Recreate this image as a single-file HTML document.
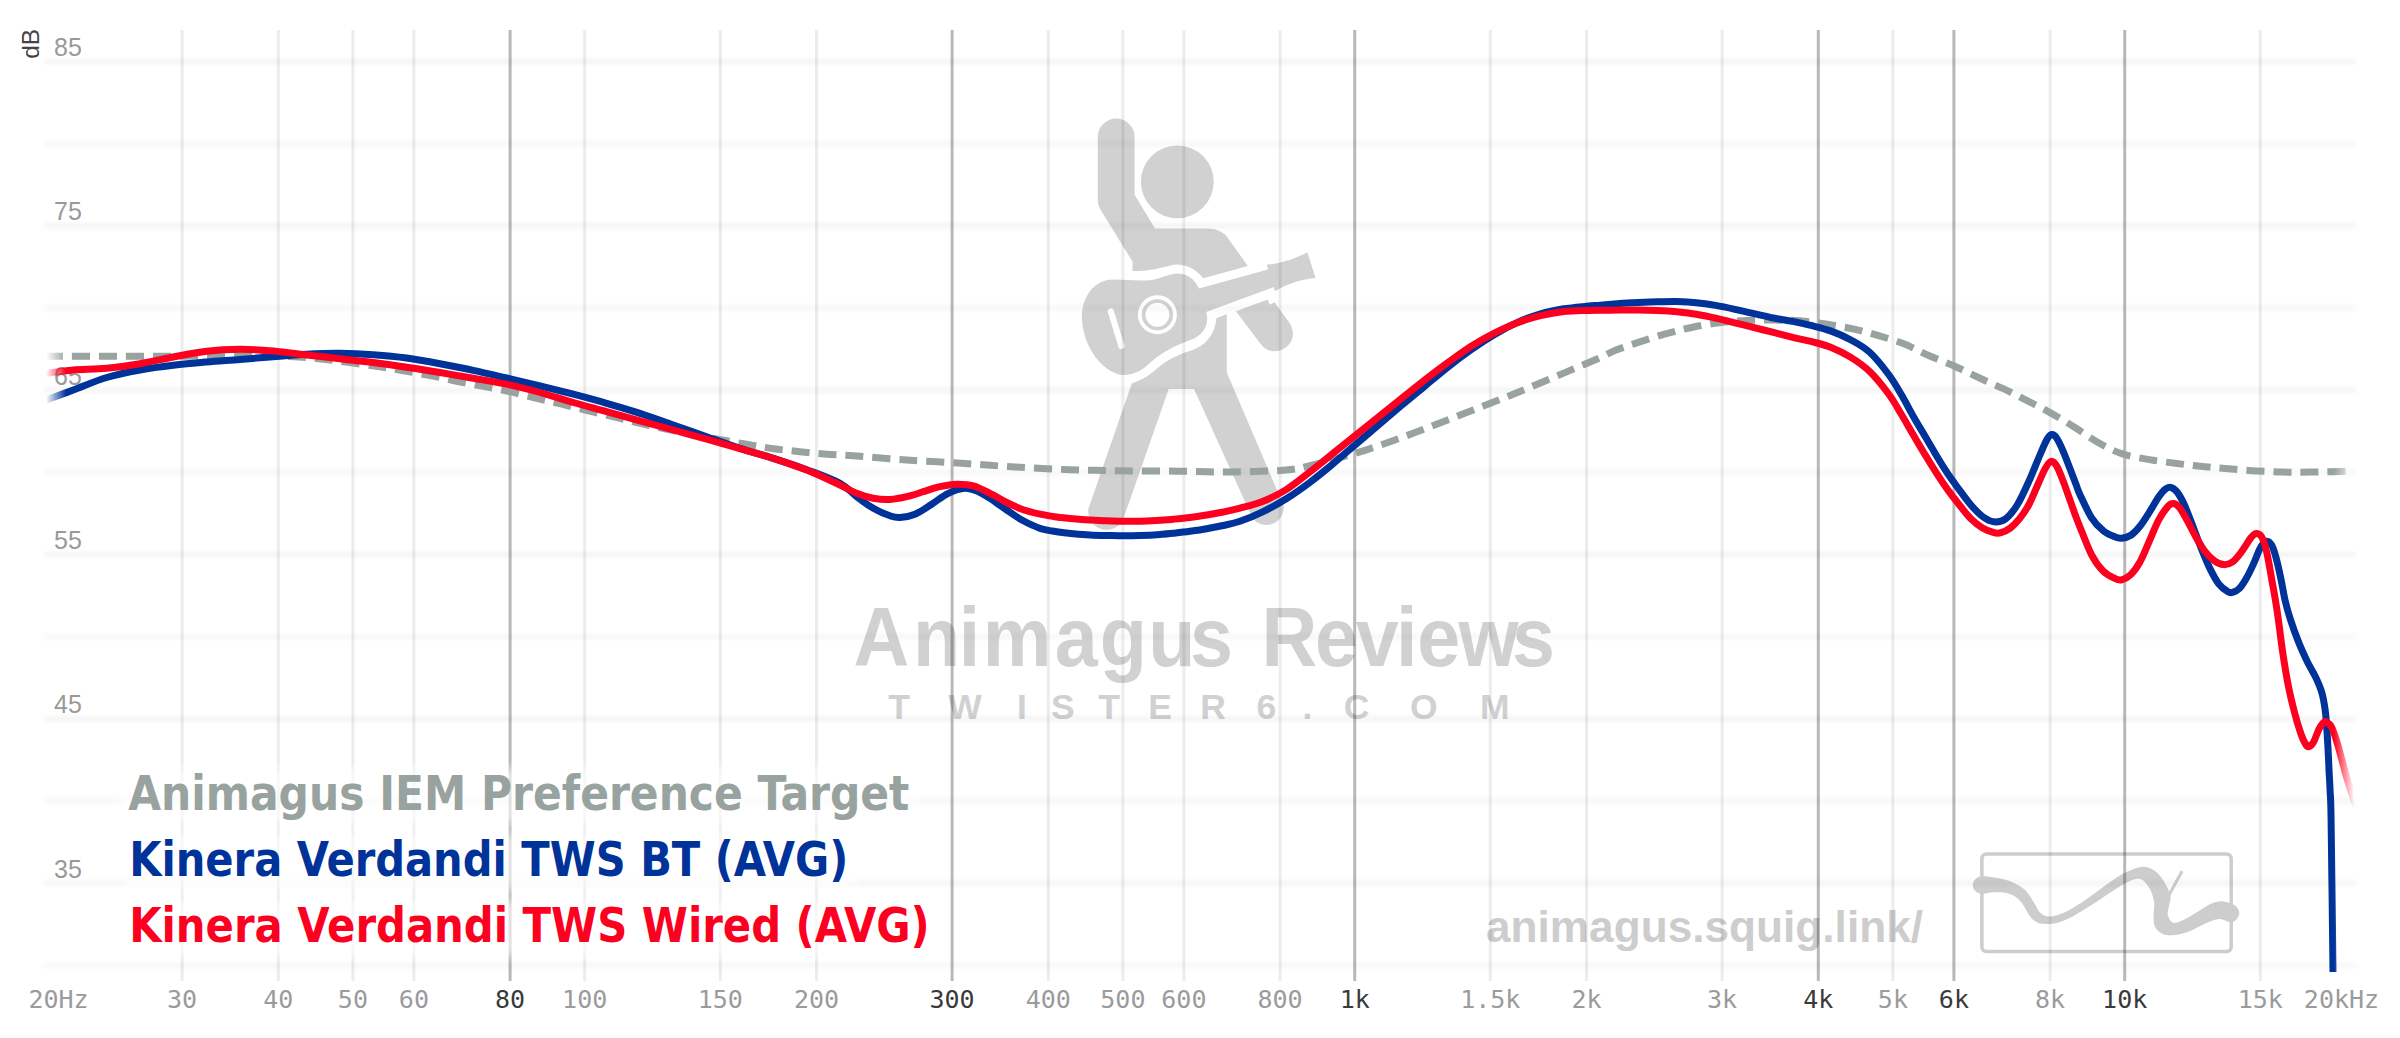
<!DOCTYPE html>
<html lang="en"><head><meta charset="utf-8"><title>Animagus Reviews graph</title>
<style>
html,body{margin:0;padding:0;background:#fff;}
body{width:2400px;height:1038px;overflow:hidden;}
svg{display:block;}
.xl{font-family:"DejaVu Sans Mono","Liberation Mono",monospace;font-size:25px;text-anchor:middle;fill:#9b9b9b;}
.xl.b{fill:#3a3a3a;}
.yl{font-family:"Liberation Sans","DejaVu Sans",sans-serif;font-size:25px;fill:#999;}
.lab{font-family:"DejaVu Sans Condensed","Liberation Sans",sans-serif;font-weight:bold;font-size:48px;}
.wm{font-family:"Liberation Sans","DejaVu Sans",sans-serif;font-weight:bold;fill:#d1d1d1;}
</style></head><body>
<svg width="2400" height="1038" viewBox="0 0 2400 1038">
<defs>
<filter id="hb" filterUnits="userSpaceOnUse" x="0" y="0" width="2400" height="1038"><feGaussianBlur stdDeviation="2.4"/></filter>
<filter id="lb" filterUnits="userSpaceOnUse" x="0" y="0" width="2400" height="1038"><feGaussianBlur stdDeviation="5"/></filter>
<linearGradient id="fg" gradientUnits="userSpaceOnUse" x1="45" y1="0" x2="2355" y2="0">
<stop offset="0.0004" stop-color="#fff" stop-opacity="0"/><stop offset="0.0091" stop-color="#fff" stop-opacity="1"/>
<stop offset="0.9909" stop-color="#fff" stop-opacity="1"/><stop offset="0.9996" stop-color="#fff" stop-opacity="0"/>
</linearGradient>
<mask id="fm" maskUnits="userSpaceOnUse" x="0" y="0" width="2400" height="1038"><rect x="45" y="0" width="2310" height="972" fill="url(#fg)"/></mask>
</defs>
<rect width="2400" height="1038" fill="#fff"/>

<g fill="#d1d1d1">
<path d="M1097.8 136.9 A18.4 18.4 0 0 1 1134.6 136.9 L1134.6 194.8 L1155.0 228.4 L1207.7 228.4 C1215.3 228.4 1221.8 231.2 1226.1 235.5 L1247.8 265.9 L1203.4 278.3 C1196.9 270.2 1188.2 264.8 1177.8 264.4 C1168.7 264.4 1156.7 271.3 1132.5 270.9 L1132.5 261.6 L1100.4 209.5 Q1097.8 205.2 1097.8 200.2 Z"/>
<circle cx="1177.3" cy="181.8" r="36.4"/>
<path d="M1199.0 288.5 C1194.7 278.8 1187.1 273.4 1177.3 273.4 C1169.8 273.4 1161.1 278.1 1154.6 279.4 C1143.7 281.6 1126.4 279.4 1113.4 279.4 C1093.9 279.4 1081.9 297.2 1081.9 316.7 C1081.9 338.4 1093.9 360.1 1109.0 369.9 C1115.5 373.6 1119.9 374.9 1123.1 374.9 C1135.1 374.9 1143.7 368.8 1148.1 364.4 C1161.1 352.5 1174.1 346.0 1191.4 339.5 C1202.3 335.6 1209.9 325.4 1206.2 312.0 L1273.8 287.0 L1274.9 291.2 C1289.0 283.1 1302.0 279.4 1315.5 278.1 L1307.4 252.3 C1295.5 258.8 1280.3 263.6 1266.9 264.7 L1268.0 269.5 Z"/>
<path d="M1235.9 311.3 L1267.8 299.4 L1269.5 304.8 L1274.5 302.2 L1289.0 322.2 C1296.0 331.9 1293.8 344.9 1281.4 349.9 C1272.8 353.2 1265.2 350.4 1260.4 343.8 Z"/>
<path d="M1216.4 318.3 L1226.8 314.1 L1226.8 372.6 L1283.6 505.5 A17.3 17.3 0 0 1 1252.2 517.5 L1194.0 389.1 L1168.7 389.1 L1123.1 519.6 A18.4 18.4 0 0 1 1088.4 508.8 L1131.8 383.4 C1143.7 379.6 1152.4 373.1 1156.7 368.8 C1167.6 359.0 1180.6 353.6 1191.4 350.4 C1205.5 346.0 1215.3 334.1 1216.4 318.3 Z"/>
</g>
<circle cx="1157.4" cy="314.8" r="19.5" fill="#fff"/>
<circle cx="1157.4" cy="314.8" r="13.8" fill="none" stroke="#d1d1d1" stroke-width="3.7"/>
<line x1="1110.8" y1="311.3" x2="1121.4" y2="346.0" stroke="#fff" stroke-width="6.1" stroke-linecap="round"/>
<text class="wm" font-size="84" transform="scale(0.92,1)" y="665.8" x="927.6 992.3 1042.2 1068.1 1146.5 1195.5 1248.1 1293.5 1347.8 1371.3 1429.4 1473.7 1517.4 1540.6 1585.3 1643.5">Animagus Reviews</text>
<text class="wm" font-size="35.5" y="718.8" x="888.3 948.2 1016.9 1050.9 1098.2 1148.3 1200.2 1256.4 1302.6 1343.7 1410.0 1480.0">TWISTER6.COM</text>
<text class="wm" style="fill:#cdcdcd" font-size="45" x="1486" y="941.6" textLength="437" lengthAdjust="spacingAndGlyphs">animagus.squig.link/</text>
<rect x="1981.9" y="854.0" width="249.3" height="97.5" rx="4.5" fill="none" stroke="#cdcdcd" stroke-width="3.5"/>
<path d="M1973.2 882.6C1973.9 880.4 1975.8 877.9 1978.8 877.0C1981.8 876.0 1986.1 876.2 1991.3 877.0C1996.5 877.7 2004.5 879.1 2010.1 881.3C2015.7 883.5 2021.2 886.6 2025.1 890.1C2029.1 893.7 2031.4 898.9 2033.9 902.6C2036.4 906.4 2037.5 910.4 2040.2 912.7C2042.9 915.0 2045.8 916.6 2050.2 916.4C2054.6 916.2 2060.6 914.1 2066.5 911.4C2072.3 908.7 2079.0 904.3 2085.3 900.1C2091.5 896.0 2097.8 890.7 2104.1 886.3C2110.3 882.0 2116.6 877.1 2122.8 873.8C2129.1 870.6 2136.2 867.3 2141.6 866.9C2147.1 866.5 2151.4 868.5 2155.4 871.3C2159.4 874.1 2162.9 879.7 2165.4 883.8C2167.9 888.0 2169.9 892.4 2170.4 896.4C2171.0 900.3 2169.0 904.5 2168.6 907.6C2168.2 910.8 2167.2 912.7 2167.9 915.2C2168.7 917.7 2170.4 921.8 2173.0 922.7C2175.5 923.5 2178.8 922.0 2183.0 920.2C2187.1 918.3 2193.4 914.1 2198.0 911.4C2202.6 908.7 2206.4 905.6 2210.5 903.9C2214.7 902.2 2219.1 901.2 2223.1 901.4C2227.0 901.6 2231.6 903.3 2234.3 905.1C2237.0 907.0 2239.1 910.1 2239.3 912.7C2239.6 915.2 2237.3 918.6 2235.6 920.2C2233.9 921.7 2232.0 922.3 2229.3 922.0C2226.6 921.8 2223.5 918.6 2219.3 918.9C2215.1 919.2 2209.3 921.8 2204.3 923.9C2199.3 926.0 2194.5 929.6 2189.2 931.4C2184.0 933.3 2177.3 934.8 2173.0 935.2C2168.6 935.6 2165.9 935.2 2162.9 933.9C2160.0 932.7 2157.0 930.4 2155.4 927.7C2153.8 925.0 2153.7 921.8 2153.5 917.7C2153.3 913.5 2154.7 907.2 2154.2 902.6C2153.6 898.0 2152.1 893.7 2150.4 890.1C2148.7 886.6 2146.2 883.2 2144.1 881.3C2142.1 879.5 2140.8 878.6 2137.9 878.8C2135.0 879.0 2131.2 880.3 2126.6 882.6C2122.0 884.9 2116.2 888.9 2110.3 892.6C2104.5 896.4 2097.8 901.2 2091.5 905.1C2085.3 909.1 2078.4 913.5 2072.7 916.4C2067.1 919.3 2061.9 921.4 2057.7 922.7C2053.5 923.9 2051.0 923.9 2047.7 923.9C2044.3 923.9 2040.6 923.9 2037.7 922.7C2034.7 921.4 2032.7 919.5 2030.1 916.4C2027.6 913.3 2025.1 907.2 2022.6 903.9C2020.1 900.5 2018.2 898.2 2015.1 896.4C2012.0 894.5 2007.8 893.2 2003.8 892.6C1999.9 892.0 1995.1 892.4 1991.3 892.6C1987.6 892.8 1984.1 894.3 1981.3 893.9C1978.5 893.4 1975.8 892.0 1974.4 890.1C1973.0 888.2 1972.4 884.8 1973.2 882.6Z" fill="#cdcdcd"/>
<line x1="2168.6" y1="895.7" x2="2181.5" y2="872.3" stroke="#cdcdcd" stroke-width="3.2" stroke-linecap="round"/>
<g filter="url(#hb)" stroke="#000" stroke-linecap="round">
<line x1="45" x2="2355" y1="965.3" y2="965.3" stroke-width="1" stroke-opacity="0.17"/>
<line x1="45" x2="2355" y1="883.1" y2="883.1" stroke-width="1" stroke-opacity="0.22"/>
<line x1="45" x2="2355" y1="801.0" y2="801.0" stroke-width="1" stroke-opacity="0.17"/>
<line x1="45" x2="2355" y1="718.8" y2="718.8" stroke-width="1" stroke-opacity="0.22"/>
<line x1="45" x2="2355" y1="636.6" y2="636.6" stroke-width="1" stroke-opacity="0.17"/>
<line x1="45" x2="2355" y1="554.5" y2="554.5" stroke-width="1" stroke-opacity="0.22"/>
<line x1="45" x2="2355" y1="472.3" y2="472.3" stroke-width="1" stroke-opacity="0.17"/>
<line x1="45" x2="2355" y1="390.1" y2="390.1" stroke-width="1" stroke-opacity="0.22"/>
<line x1="45" x2="2355" y1="308.0" y2="308.0" stroke-width="1" stroke-opacity="0.17"/>
<line x1="45" x2="2355" y1="225.8" y2="225.8" stroke-width="1" stroke-opacity="0.22"/>
<line x1="45" x2="2355" y1="143.7" y2="143.7" stroke-width="1" stroke-opacity="0.17"/>
<line x1="45" x2="2355" y1="61.5" y2="61.5" stroke-width="1" stroke-opacity="0.22"/>
</g>
<g stroke-width="3">
<line x1="182.1" x2="182.1" y1="30" y2="981" stroke="#000" stroke-opacity="0.075"/>
<line x1="278.3" x2="278.3" y1="30" y2="981" stroke="#000" stroke-opacity="0.075"/>
<line x1="352.9" x2="352.9" y1="30" y2="981" stroke="#000" stroke-opacity="0.075"/>
<line x1="413.9" x2="413.9" y1="30" y2="981" stroke="#000" stroke-opacity="0.075"/>
<line x1="510.1" x2="510.1" y1="30" y2="981" stroke="#000" stroke-opacity="0.28"/>
<line x1="584.7" x2="584.7" y1="30" y2="981" stroke="#000" stroke-opacity="0.075"/>
<line x1="720.3" x2="720.3" y1="30" y2="981" stroke="#000" stroke-opacity="0.075"/>
<line x1="816.5" x2="816.5" y1="30" y2="981" stroke="#000" stroke-opacity="0.075"/>
<line x1="952.1" x2="952.1" y1="30" y2="981" stroke="#000" stroke-opacity="0.28"/>
<line x1="1048.3" x2="1048.3" y1="30" y2="981" stroke="#000" stroke-opacity="0.075"/>
<line x1="1122.9" x2="1122.9" y1="30" y2="981" stroke="#000" stroke-opacity="0.075"/>
<line x1="1183.9" x2="1183.9" y1="30" y2="981" stroke="#000" stroke-opacity="0.075"/>
<line x1="1280.1" x2="1280.1" y1="30" y2="981" stroke="#000" stroke-opacity="0.075"/>
<line x1="1354.7" x2="1354.7" y1="30" y2="981" stroke="#000" stroke-opacity="0.28"/>
<line x1="1490.3" x2="1490.3" y1="30" y2="981" stroke="#000" stroke-opacity="0.075"/>
<line x1="1586.5" x2="1586.5" y1="30" y2="981" stroke="#000" stroke-opacity="0.075"/>
<line x1="1722.1" x2="1722.1" y1="30" y2="981" stroke="#000" stroke-opacity="0.075"/>
<line x1="1818.3" x2="1818.3" y1="30" y2="981" stroke="#000" stroke-opacity="0.28"/>
<line x1="1892.9" x2="1892.9" y1="30" y2="981" stroke="#000" stroke-opacity="0.075"/>
<line x1="1953.9" x2="1953.9" y1="30" y2="981" stroke="#000" stroke-opacity="0.28"/>
<line x1="2050.1" x2="2050.1" y1="30" y2="981" stroke="#000" stroke-opacity="0.075"/>
<line x1="2124.7" x2="2124.7" y1="30" y2="981" stroke="#000" stroke-opacity="0.28"/>
<line x1="2260.3" x2="2260.3" y1="30" y2="981" stroke="#000" stroke-opacity="0.075"/>
</g>
<g>
<text class="xl" x="58.5" y="1007.5">20Hz</text>
<text class="xl" x="182.1" y="1007.5">30</text>
<text class="xl" x="278.3" y="1007.5">40</text>
<text class="xl" x="352.9" y="1007.5">50</text>
<text class="xl" x="413.9" y="1007.5">60</text>
<text class="xl b" x="510.1" y="1007.5">80</text>
<text class="xl" x="584.7" y="1007.5">100</text>
<text class="xl" x="720.3" y="1007.5">150</text>
<text class="xl" x="816.5" y="1007.5">200</text>
<text class="xl b" x="952.1" y="1007.5">300</text>
<text class="xl" x="1048.3" y="1007.5">400</text>
<text class="xl" x="1122.9" y="1007.5">500</text>
<text class="xl" x="1183.9" y="1007.5">600</text>
<text class="xl" x="1280.1" y="1007.5">800</text>
<text class="xl b" x="1354.7" y="1007.5">1k</text>
<text class="xl" x="1490.3" y="1007.5">1.5k</text>
<text class="xl" x="1586.5" y="1007.5">2k</text>
<text class="xl" x="1722.1" y="1007.5">3k</text>
<text class="xl b" x="1818.3" y="1007.5">4k</text>
<text class="xl" x="1892.9" y="1007.5">5k</text>
<text class="xl b" x="1953.9" y="1007.5">6k</text>
<text class="xl" x="2050.1" y="1007.5">8k</text>
<text class="xl b" x="2124.7" y="1007.5">10k</text>
<text class="xl" x="2260.3" y="1007.5">15k</text>
<text class="xl" x="2341.5" y="1007.5">20kHz</text>
</g>
<g>
<text class="yl" x="54" y="877.6">35</text>
<text class="yl" x="54" y="713.3">45</text>
<text class="yl" x="54" y="549.0">55</text>
<text class="yl" x="54" y="384.6">65</text>
<text class="yl" x="54" y="220.3">75</text>
<text class="yl" x="54" y="56.0">85</text>
<text class="yl" style="fill:#444;text-anchor:end;font-size:24.5px" transform="translate(39.3,28.8) rotate(-90)" x="0" y="0">dB</text>
</g>
<g mask="url(#fm)" fill="none" stroke-linejoin="round">
<path d="M45.0 356.2C54.2 356.2 78.6 356.2 100.0 356.2C121.4 356.2 150.0 356.3 173.3 356.2C196.6 356.1 220.6 355.4 240.0 355.5C259.4 355.6 276.2 355.9 290.0 356.5C303.8 357.1 309.2 357.6 323.0 359.2C336.8 360.8 359.1 363.8 373.0 365.8C386.9 367.8 395.5 369.4 406.7 371.3C417.9 373.2 431.7 375.8 440.0 377.5C448.3 379.2 449.5 379.8 456.7 381.3C463.9 382.8 474.4 384.6 483.3 386.3C492.2 388.0 501.1 389.7 510.0 391.7C518.9 393.7 528.1 396.2 536.7 398.3C545.3 400.4 553.1 402.1 561.7 404.2C570.3 406.3 579.4 408.6 588.3 410.8C597.2 413.0 606.4 415.1 615.0 417.2C623.6 419.3 629.2 420.8 640.0 423.3C650.8 425.8 667.5 429.4 680.0 432.0C692.5 434.6 703.9 436.8 715.0 438.8C726.1 440.8 737.0 442.6 746.7 444.2C756.4 445.8 764.4 447.4 773.3 448.7C782.2 449.9 791.1 450.8 800.0 451.7C808.9 452.6 817.8 453.5 826.7 454.2C835.6 454.9 840.0 454.8 853.3 455.8C866.6 456.8 888.6 458.8 906.7 460.0C924.8 461.2 943.7 462.1 961.7 463.3C979.8 464.5 997.0 465.9 1015.0 467.0C1033.0 468.1 1052.0 469.1 1070.0 469.7C1088.0 470.3 1105.2 470.6 1123.3 470.8C1141.3 471.1 1160.2 471.0 1178.3 471.2C1196.4 471.4 1213.7 472.2 1231.7 472.0C1249.7 471.8 1272.5 471.2 1286.2 470.0C1299.9 468.8 1300.9 467.9 1314.0 464.6C1327.1 461.3 1348.0 455.7 1364.9 450.3C1381.9 444.9 1398.8 438.6 1415.7 432.3C1432.7 426.0 1449.6 419.2 1466.6 412.6C1483.6 406.0 1500.9 399.2 1517.5 392.5C1534.1 385.8 1552.2 377.9 1566.0 372.1C1579.8 366.3 1591.8 361.4 1600.0 357.8C1608.2 354.2 1608.7 353.0 1615.4 350.3C1622.2 347.6 1631.8 344.5 1640.5 341.7C1649.2 338.9 1658.7 335.8 1667.4 333.4C1676.1 331.0 1683.8 329.0 1692.5 327.2C1701.2 325.4 1710.5 323.9 1719.5 322.8C1728.5 321.7 1737.4 320.9 1746.4 320.5C1755.4 320.1 1764.4 320.1 1773.4 320.1C1782.4 320.2 1791.4 320.1 1800.4 320.8C1809.4 321.5 1818.4 322.9 1827.4 324.3C1836.4 325.7 1845.6 327.2 1854.3 329.1C1863.0 331.0 1871.0 333.4 1879.4 335.9C1887.9 338.4 1896.7 341.0 1905.0 344.3C1913.3 347.6 1921.0 352.2 1929.3 355.8C1937.6 359.4 1946.4 362.5 1954.7 366.2C1963.0 369.9 1970.9 374.1 1979.0 377.8C1987.1 381.6 1995.2 384.9 2003.3 388.7C2011.4 392.5 2019.5 396.8 2027.6 400.9C2035.7 405.0 2043.9 409.2 2051.8 413.6C2059.7 418.0 2067.3 422.7 2075.0 427.5C2082.7 432.3 2090.3 438.1 2098.1 442.5C2105.9 446.9 2113.0 450.8 2121.6 453.6C2130.2 456.5 2140.2 458.0 2149.4 459.6C2158.7 461.2 2168.2 462.4 2177.1 463.5C2185.9 464.6 2194.0 465.6 2202.5 466.5C2211.0 467.4 2219.1 468.1 2228.0 468.8C2236.9 469.5 2246.4 470.3 2255.7 470.9C2264.9 471.4 2274.2 471.9 2283.5 472.1C2292.8 472.3 2299.1 472.3 2311.2 472.1C2323.3 471.9 2348.5 471.2 2356.0 471.0" stroke="#98a29e" stroke-width="7" stroke-dasharray="18 9"/>
<path d="M45.0 400.3C45.3 400.2 42.0 401.4 46.7 399.7C51.4 398.0 63.3 393.7 73.3 390.0C83.3 386.3 95.6 380.8 106.7 377.5C117.8 374.2 128.9 372.0 140.0 370.0C151.1 368.0 162.2 366.6 173.3 365.3C184.4 364.0 195.6 363.0 206.7 362.0C217.8 361.0 228.9 360.4 240.0 359.5C251.1 358.6 262.2 357.6 273.3 356.7C284.4 355.8 295.6 354.8 306.7 354.2C317.8 353.6 328.9 353.2 340.0 353.3C351.1 353.4 362.2 353.9 373.3 354.7C384.4 355.5 395.6 356.5 406.7 358.0C417.8 359.5 428.9 361.6 440.0 363.7C451.1 365.8 462.2 367.9 473.3 370.3C484.4 372.7 495.6 375.4 506.7 378.0C517.8 380.6 528.9 383.1 540.0 385.8C551.1 388.5 562.2 391.3 573.3 394.2C584.4 397.1 595.6 400.1 606.7 403.3C617.8 406.5 628.9 409.7 640.0 413.3C651.1 416.9 662.2 421.1 673.3 425.0C684.4 428.9 695.6 432.8 706.7 436.7C717.8 440.6 728.9 444.7 740.0 448.3C751.1 451.9 762.2 454.7 773.3 458.3C784.4 461.9 795.6 465.5 806.7 469.7C817.8 473.9 831.7 478.8 840.0 483.3C848.3 487.8 851.2 492.5 856.7 496.7C862.2 500.9 867.8 505.1 873.3 508.3C878.8 511.5 885.5 514.3 890.0 515.8C894.5 517.3 895.8 517.8 900.0 517.5C904.2 517.2 909.7 516.4 915.0 514.2C920.3 512.0 926.2 507.7 931.7 504.2C937.2 500.7 942.8 495.9 948.3 493.3C953.8 490.7 960.0 488.6 965.0 488.3C970.0 488.0 974.1 490.0 978.3 491.7C982.5 493.4 985.3 495.2 990.0 498.3C994.7 501.4 1001.2 506.2 1006.7 510.0C1012.2 513.8 1017.8 517.8 1023.3 520.8C1028.8 523.8 1034.4 526.5 1040.0 528.3C1045.6 530.1 1051.2 530.8 1056.7 531.7C1062.2 532.6 1067.8 533.2 1073.3 533.7C1078.8 534.2 1084.4 534.7 1090.0 535.0C1095.6 535.3 1101.2 535.4 1106.7 535.5C1112.2 535.6 1117.8 535.8 1123.3 535.8C1128.8 535.8 1134.4 535.7 1140.0 535.5C1145.6 535.3 1151.2 535.1 1156.7 534.7C1162.2 534.3 1167.8 533.9 1173.3 533.3C1178.8 532.7 1184.4 532.1 1190.0 531.3C1195.6 530.5 1201.2 529.7 1206.7 528.7C1212.2 527.7 1217.8 526.7 1223.3 525.5C1228.8 524.3 1233.4 523.6 1240.0 521.3C1246.6 519.0 1255.4 515.4 1263.1 511.6C1270.8 507.9 1278.5 503.6 1286.2 498.8C1293.9 494.0 1301.7 488.5 1309.4 482.7C1317.1 476.9 1324.8 470.6 1332.5 464.2C1340.2 457.8 1347.9 451.1 1355.6 444.5C1363.3 437.9 1371.0 431.4 1378.7 424.9C1386.4 418.3 1394.1 411.7 1401.8 405.2C1409.5 398.7 1417.3 392.4 1425.0 386.0C1432.7 379.6 1440.4 373.1 1448.1 367.0C1455.8 360.9 1463.5 355.1 1471.2 349.7C1478.9 344.3 1486.6 339.2 1494.3 334.7C1502.0 330.1 1509.8 325.9 1517.5 322.4C1525.2 318.9 1532.9 316.2 1540.6 313.9C1548.3 311.6 1556.0 310.1 1563.7 308.8C1571.4 307.5 1580.8 306.8 1586.8 306.2C1592.8 305.6 1594.6 305.6 1600.0 305.2C1605.4 304.8 1612.9 303.9 1619.3 303.5C1625.7 303.1 1632.1 302.8 1638.5 302.5C1644.9 302.2 1651.4 301.9 1657.8 301.8C1664.2 301.7 1670.7 301.5 1677.1 301.6C1683.5 301.8 1689.9 302.1 1696.3 302.7C1702.7 303.3 1709.2 304.3 1715.6 305.4C1722.0 306.5 1728.5 307.9 1734.9 309.3C1741.3 310.7 1747.7 312.2 1754.1 313.7C1760.5 315.1 1767.0 316.7 1773.4 318.0C1779.8 319.3 1786.3 320.1 1792.7 321.4C1799.1 322.7 1805.5 324.1 1811.9 325.7C1818.3 327.3 1824.8 328.8 1831.2 331.1C1837.6 333.4 1844.1 336.2 1850.5 339.7C1856.9 343.2 1863.3 346.4 1869.7 352.3C1876.1 358.2 1883.7 367.9 1889.0 375.0C1894.3 382.1 1897.6 388.3 1901.6 395.1C1905.6 401.9 1909.2 409.2 1913.1 416.0C1916.9 422.8 1920.8 429.1 1924.7 435.6C1928.6 442.2 1932.4 448.9 1936.2 455.3C1940.0 461.7 1943.9 468.0 1947.8 473.8C1951.7 479.6 1955.6 484.7 1959.4 489.9C1963.2 495.1 1967.1 500.6 1970.9 505.0C1974.8 509.4 1978.7 513.7 1982.5 516.5C1986.3 519.3 1990.2 521.4 1994.0 521.8C1997.8 522.2 2001.7 521.6 2005.6 518.8C2009.5 516.0 2013.3 511.2 2017.2 505.0C2021.1 498.8 2024.9 490.3 2028.7 481.8C2032.5 473.3 2037.2 461.2 2040.3 454.1C2043.4 447.0 2045.3 442.4 2047.2 439.1C2049.1 435.8 2050.2 434.7 2051.8 434.5C2053.4 434.3 2054.6 435.0 2056.5 437.9C2058.4 440.8 2060.3 444.5 2063.4 451.8C2066.5 459.1 2072.2 474.7 2075.0 481.8C2077.8 488.9 2077.2 488.7 2080.0 494.7C2082.8 500.7 2087.8 511.9 2091.6 517.9C2095.4 523.9 2099.2 527.5 2103.1 530.6C2106.9 533.8 2111.6 535.5 2114.7 536.8C2117.8 538.1 2118.9 538.5 2121.6 538.2C2124.3 537.9 2127.8 537.2 2130.9 535.2C2134.0 533.2 2137.0 529.9 2140.1 526.0C2143.2 522.1 2146.3 516.9 2149.4 512.1C2152.5 507.3 2155.9 501.0 2158.6 497.1C2161.3 493.2 2163.5 490.6 2165.5 489.0C2167.5 487.4 2168.7 486.8 2170.6 487.3C2172.5 487.8 2174.9 489.2 2177.1 492.0C2179.3 494.8 2181.7 499.1 2184.0 504.0C2186.3 508.9 2188.3 514.4 2191.0 521.3C2193.7 528.2 2197.1 537.9 2200.2 545.6C2203.3 553.3 2206.4 561.2 2209.5 567.6C2212.6 574.0 2215.6 579.8 2218.7 583.8C2221.8 587.8 2225.7 590.4 2228.0 591.8C2230.3 593.2 2230.7 592.9 2232.6 592.3C2234.5 591.7 2237.2 590.8 2239.5 588.4C2241.8 586.0 2244.2 582.0 2246.5 578.0C2248.8 574.0 2251.1 569.1 2253.4 564.1C2255.7 559.1 2258.2 551.7 2260.3 547.9C2262.4 544.1 2264.2 541.8 2266.1 541.4C2268.0 541.0 2270.2 542.6 2271.9 545.6C2273.6 548.6 2274.9 553.7 2276.5 559.5C2278.1 565.3 2279.8 573.5 2281.2 580.3C2282.6 587.0 2283.5 593.5 2285.0 600.0C2286.5 606.5 2288.0 612.0 2290.3 619.1C2292.6 626.2 2295.9 635.4 2298.7 642.4C2301.5 649.4 2304.4 655.6 2307.2 661.4C2310.0 667.2 2313.2 672.0 2315.7 677.3C2318.2 682.6 2320.4 687.7 2322.0 693.2C2323.6 698.7 2324.4 704.6 2325.2 710.2C2326.0 715.9 2326.2 720.8 2326.7 727.1C2327.2 733.5 2327.6 741.2 2328.0 748.3C2328.4 755.4 2328.7 762.4 2329.0 769.5C2329.3 776.6 2329.8 782.3 2330.1 790.7C2330.4 799.1 2330.6 789.8 2331.1 820.0C2331.6 850.2 2332.6 942.0 2333.0 972.0C2333.4 1002.0 2333.4 995.3 2333.5 1000.0" stroke="#003399" stroke-width="7"/>
<path d="M45.0 373.5C45.3 373.5 42.0 373.9 46.7 373.3C51.4 372.7 63.3 370.8 73.3 370.0C83.3 369.2 95.6 369.4 106.7 368.3C117.8 367.2 128.9 365.6 140.0 363.7C151.1 361.8 162.2 359.1 173.3 357.0C184.4 354.9 195.6 352.6 206.7 351.3C217.8 350.0 228.9 349.4 240.0 349.3C251.1 349.2 262.2 350.1 273.3 351.0C284.4 351.9 295.6 353.7 306.7 355.0C317.8 356.3 328.9 357.4 340.0 358.7C351.1 359.9 362.2 361.1 373.3 362.5C384.4 363.9 395.6 365.5 406.7 367.2C417.8 368.9 428.9 370.6 440.0 372.5C451.1 374.4 462.2 376.4 473.3 378.3C484.4 380.2 495.6 381.8 506.7 384.2C517.8 386.6 528.9 389.4 540.0 392.5C551.1 395.6 562.2 399.3 573.3 402.5C584.4 405.7 595.6 408.6 606.7 411.7C617.8 414.8 628.9 417.8 640.0 420.8C651.1 423.9 662.2 426.9 673.3 430.0C684.4 433.1 695.6 436.1 706.7 439.2C717.8 442.3 728.9 445.5 740.0 448.7C751.1 451.9 762.2 454.8 773.3 458.3C784.4 461.9 795.6 465.6 806.7 470.0C817.8 474.4 831.7 481.1 840.0 485.0C848.3 488.9 851.2 491.1 856.7 493.3C862.2 495.5 867.8 497.3 873.3 498.3C878.8 499.3 884.4 499.8 890.0 499.5C895.6 499.2 901.2 498.0 906.7 496.7C912.2 495.4 917.8 493.4 923.3 491.7C928.8 490.0 934.4 487.9 940.0 486.7C945.6 485.4 951.2 484.3 956.7 484.2C962.2 484.1 967.8 484.3 973.3 485.8C978.8 487.3 984.4 490.5 990.0 493.3C995.6 496.1 1001.2 499.8 1006.7 502.5C1012.2 505.2 1017.8 507.8 1023.3 509.7C1028.8 511.6 1034.4 513.0 1040.0 514.2C1045.6 515.4 1051.2 516.2 1056.7 517.0C1062.2 517.8 1067.8 518.3 1073.3 518.8C1078.8 519.3 1084.4 519.7 1090.0 520.0C1095.6 520.3 1101.2 520.6 1106.7 520.8C1112.2 521.0 1117.8 521.2 1123.3 521.3C1128.8 521.4 1134.4 521.3 1140.0 521.2C1145.6 521.1 1151.2 520.8 1156.7 520.5C1162.2 520.2 1167.8 519.7 1173.3 519.2C1178.8 518.7 1184.4 518.2 1190.0 517.5C1195.6 516.8 1201.2 515.9 1206.7 515.0C1212.2 514.1 1217.8 513.1 1223.3 512.0C1228.8 510.9 1233.4 510.0 1240.0 508.2C1246.6 506.4 1255.4 504.3 1263.1 501.2C1270.8 498.1 1278.5 494.4 1286.2 489.6C1293.9 484.8 1301.7 478.3 1309.4 472.3C1317.1 466.3 1324.8 460.0 1332.5 453.8C1340.2 447.6 1347.9 441.5 1355.6 435.3C1363.3 429.1 1371.0 423.0 1378.7 416.8C1386.4 410.6 1394.1 404.5 1401.8 398.3C1409.5 392.1 1417.3 385.8 1425.0 379.8C1432.7 373.8 1440.4 368.0 1448.1 362.4C1455.8 356.8 1463.5 351.1 1471.2 346.2C1478.9 341.3 1486.6 337.0 1494.3 333.1C1502.0 329.2 1509.8 325.6 1517.5 322.7C1525.2 319.8 1532.9 317.5 1540.6 315.7C1548.3 313.9 1556.0 312.5 1563.7 311.6C1571.4 310.7 1580.8 310.6 1586.8 310.4C1592.8 310.2 1594.6 310.2 1600.0 310.2C1605.4 310.1 1612.9 310.2 1619.3 310.1C1625.7 310.1 1632.1 309.8 1638.5 309.9C1644.9 309.9 1651.4 310.1 1657.8 310.4C1664.2 310.7 1670.7 311.1 1677.1 311.8C1683.5 312.5 1689.9 313.2 1696.3 314.3C1702.7 315.4 1709.2 316.8 1715.6 318.2C1722.0 319.6 1728.5 321.2 1734.9 322.8C1741.3 324.4 1747.7 326.0 1754.1 327.6C1760.5 329.2 1767.0 330.8 1773.4 332.4C1779.8 334.0 1786.3 335.8 1792.7 337.4C1799.1 338.9 1805.5 340.0 1811.9 341.7C1818.3 343.4 1824.8 344.8 1831.2 347.4C1837.6 350.0 1844.1 353.1 1850.5 357.1C1856.9 361.1 1863.3 365.3 1869.7 371.5C1876.1 377.7 1883.7 387.3 1889.0 394.5C1894.3 401.7 1897.6 408.1 1901.6 414.8C1905.6 421.5 1909.2 427.9 1913.1 434.5C1916.9 441.1 1920.8 447.8 1924.7 454.1C1928.6 460.5 1932.4 466.6 1936.2 472.6C1940.0 478.6 1943.9 484.5 1947.8 489.9C1951.7 495.3 1955.6 500.2 1959.4 505.0C1963.2 509.8 1967.1 514.9 1970.9 518.8C1974.8 522.6 1978.7 525.8 1982.5 528.1C1986.3 530.4 1990.9 531.9 1994.0 532.7C1997.1 533.5 1998.3 533.5 2001.0 532.7C2003.7 531.9 2007.1 530.4 2010.2 528.1C2013.3 525.8 2016.4 522.6 2019.5 518.8C2022.6 514.9 2025.6 510.8 2028.7 505.0C2031.8 499.2 2035.3 490.2 2038.0 484.2C2040.7 478.2 2042.8 472.9 2044.9 469.1C2047.0 465.3 2048.8 462.1 2050.7 461.5C2052.6 460.9 2054.4 462.3 2056.5 465.7C2058.6 469.1 2060.3 473.7 2063.4 481.8C2066.5 489.9 2072.2 506.7 2075.0 514.2C2077.8 521.8 2077.2 520.3 2080.0 527.1C2082.8 533.9 2087.8 547.6 2091.6 554.9C2095.4 562.2 2099.2 567.1 2103.1 571.0C2106.9 574.9 2111.6 576.9 2114.7 578.4C2117.8 579.9 2118.9 580.4 2121.6 579.8C2124.3 579.1 2127.8 577.5 2130.9 574.5C2134.0 571.5 2137.0 567.4 2140.1 561.8C2143.2 556.2 2146.3 547.9 2149.4 541.0C2152.5 534.1 2155.5 526.0 2158.6 520.2C2161.7 514.4 2165.4 509.1 2167.9 506.3C2170.4 503.5 2171.7 503.3 2173.6 503.5C2175.5 503.7 2177.3 504.9 2179.4 507.5C2181.5 510.1 2183.7 514.2 2186.4 519.0C2189.1 523.8 2192.5 531.0 2195.6 536.4C2198.7 541.8 2201.8 547.4 2204.9 551.4C2208.0 555.4 2211.0 558.4 2214.1 560.6C2217.2 562.8 2220.3 564.4 2223.4 564.6C2226.5 564.8 2229.5 564.0 2232.6 561.8C2235.7 559.6 2238.7 555.4 2241.8 551.4C2244.9 547.4 2248.6 540.5 2251.1 537.5C2253.6 534.5 2255.0 533.4 2256.9 533.6C2258.8 533.8 2261.0 535.2 2262.7 538.7C2264.4 542.2 2265.8 548.0 2267.3 554.9C2268.8 561.8 2270.6 572.8 2271.9 580.3C2273.2 587.8 2274.3 593.2 2275.4 600.0C2276.5 606.8 2277.4 612.4 2278.6 621.2C2279.8 630.0 2281.2 642.4 2282.8 653.0C2284.4 663.6 2286.2 674.8 2288.1 684.7C2290.0 694.6 2292.4 704.2 2294.5 712.3C2296.6 720.4 2299.0 728.2 2300.8 733.5C2302.6 738.8 2304.2 741.9 2305.5 744.1C2306.8 746.3 2307.6 747.0 2308.9 746.6C2310.2 746.2 2311.9 744.8 2313.6 741.9C2315.3 739.0 2317.3 732.4 2318.9 729.2C2320.5 726.0 2321.9 724.1 2323.1 722.9C2324.3 721.7 2324.9 721.1 2326.3 721.8C2327.7 722.5 2329.8 723.8 2331.6 727.1C2333.4 730.5 2335.1 736.2 2336.9 741.9C2338.7 747.5 2340.4 754.6 2342.2 761.0C2344.0 767.4 2345.7 774.1 2347.5 780.1C2349.3 786.1 2351.4 792.7 2352.8 797.0C2354.2 801.3 2355.5 804.5 2356.0 806.0" stroke="#fd001f" stroke-width="7"/>
</g>
<g fill="#fff" opacity="0.6" filter="url(#lb)"><rect x="119" y="768" width="800" height="56"/><rect x="122" y="834" width="735" height="56"/><rect x="122" y="900" width="816" height="56"/></g>
<text class="lab" x="128.2" y="810" fill="#98a29e" textLength="781.2" lengthAdjust="spacingAndGlyphs">Animagus IEM Preference Target</text>
<text class="lab" x="129.2" y="875.5" fill="#003399" textLength="719.1" lengthAdjust="spacingAndGlyphs">Kinera Verdandi TWS BT (AVG)</text>
<text class="lab" x="129.2" y="941.7" fill="#fd001f" textLength="800.4" lengthAdjust="spacingAndGlyphs">Kinera Verdandi TWS Wired (AVG)</text>
</svg></body></html>
